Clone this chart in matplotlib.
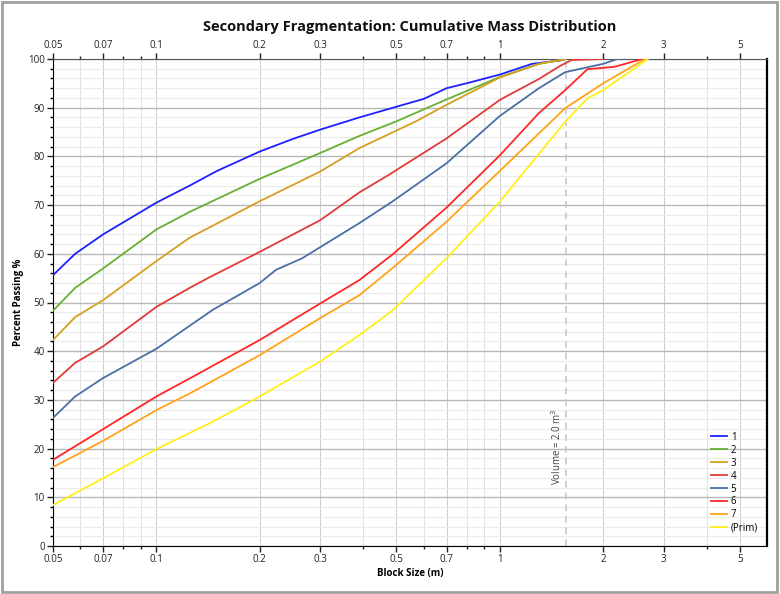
import numpy as np
import matplotlib
matplotlib.use("Agg")
import matplotlib.pyplot as plt
from matplotlib.patches import Rectangle
from matplotlib.ticker import FixedLocator, NullFormatter

plt.rcParams['font.family'] = ['Open Sans', 'DejaVu Sans']

# ---- data ----
labels = ["1", "2", "3", "4", "5", "6", "7", "(Prim)"]
colors = ["#1f1fff", "#66b032", "#d4a020", "#e23a36", "#4a6fa5", "#ff2626", "#ffa31a", "#ffef1a"]

x1 = [0.05, 0.058, 0.07, 0.1, 0.125, 0.15, 0.2, 0.25, 0.3, 0.39, 0.5, 0.6, 0.7, 0.82, 1.0, 1.24, 1.5, 1.56]
y1 = [55.6, 60.0, 64.0, 70.5, 74.0, 77.0, 81.0, 83.6, 85.5, 88.0, 90.2, 91.8, 94.0, 95.2, 96.8, 99.0, 99.7, 100.0]

x2 = [0.05, 0.058, 0.07, 0.1, 0.125, 0.2, 0.3, 0.39, 0.5, 0.7, 1.0, 1.3, 1.56]
y2 = [48.3, 53.0, 57.0, 65.0, 68.6, 75.4, 80.7, 84.2, 87.2, 91.7, 96.3, 99.0, 100.0]

x3 = [0.05, 0.058, 0.07, 0.1, 0.125, 0.2, 0.3, 0.39, 0.57, 0.7, 1.0, 1.3, 1.56]
y3 = [42.3, 47.0, 50.5, 58.5, 63.3, 70.8, 76.9, 81.7, 87.2, 90.6, 96.2, 99.0, 100.0]

x4 = [0.05, 0.058, 0.07, 0.1, 0.125, 0.143, 0.2, 0.3, 0.39, 0.48, 0.7, 1.0, 1.3, 1.5, 1.62, 2.0]
y4 = [33.5, 37.6, 41.0, 49.1, 53.0, 55.2, 60.4, 66.9, 72.6, 76.4, 83.7, 91.6, 95.9, 98.6, 99.8, 100.0]

x5 = [0.05, 0.058, 0.07, 0.1, 0.146, 0.2, 0.223, 0.266, 0.39, 0.486, 0.7, 1.0, 1.3, 1.55, 2.0, 2.2]
y5 = [26.3, 30.7, 34.5, 40.5, 48.5, 54.0, 56.7, 59.1, 66.3, 70.7, 78.6, 88.3, 94.0, 97.3, 99.0, 100.0]

x6 = [0.05, 0.07, 0.1, 0.125, 0.2, 0.3, 0.39, 0.486, 0.7, 1.0, 1.3, 1.55, 1.8, 2.16, 2.6]
y6 = [17.7, 24.0, 30.7, 34.4, 42.3, 49.8, 54.6, 59.8, 69.5, 80.2, 88.9, 93.6, 97.9, 98.4, 100.0]

x7 = [0.05, 0.07, 0.1, 0.125, 0.2, 0.3, 0.39, 0.486, 0.7, 1.0, 1.55, 2.0, 2.65]
y7 = [16.2, 21.6, 27.9, 31.3, 39.2, 46.8, 51.5, 57.0, 66.6, 77.0, 89.9, 95.0, 100.0]

x_prim = [0.05, 0.07, 0.1, 0.143, 0.2, 0.3, 0.39, 0.486, 0.7, 1.0, 1.55, 1.8, 2.0, 2.7]
y_prim = [8.4, 13.9, 19.9, 25.2, 30.7, 37.9, 43.3, 48.3, 59.1, 70.7, 87.1, 91.9, 93.6, 100.0]

xs = [x1, x2, x3, x4, x5, x6, x7, x_prim]
ys = [y1, y2, y3, y4, y5, y6, y7, y_prim]

volume = 2.0  # m^3
x_major = [0.05, 0.07, 0.1, 0.2, 0.3, 0.5, 0.7, 1, 2, 3, 5]
x_minor = [0.06, 0.08, 0.09, 0.4, 0.6, 0.8, 0.9, 4]
y_major = list(range(0, 101, 10))
y_minor = list(range(0, 101, 2))

# ---- figure ----
fig = plt.figure(figsize=(7.8, 5.94), dpi=100)
ax = fig.add_axes([53/780, 1-546/594, (767-53)/780, (546-59)/594])

for x, y, c, l in zip(xs, ys, colors, labels):
    ax.plot(x, y, color=c, lw=1.3, label=l, zorder=3)

ax.set_xscale('log')
ax.set_xlim(0.05, 6)
ax.set_ylim(0, 100)

ax.xaxis.set_major_locator(FixedLocator(x_major))
ax.xaxis.set_minor_locator(FixedLocator(x_minor))
ax.set_xticklabels([f"{v:g}" for v in x_major])
ax.xaxis.set_minor_formatter(NullFormatter())
ax.yaxis.set_major_locator(FixedLocator(y_major))
ax.yaxis.set_minor_locator(FixedLocator(y_minor))

ax.grid(True, which='major', axis='y', color='#b8b8b8', lw=1.0, zorder=0)
ax.grid(True, which='minor', axis='y', color='#ebebeb', lw=0.8, zorder=0)
ax.grid(True, which='major', axis='x', color='#d0d0d0', lw=0.8, zorder=0)
ax.grid(True, which='minor', axis='x', color='#e2e2e2', lw=0.8, zorder=0)
ax.set_axisbelow(True)

ax.tick_params(axis='x', which='both', top=True, labeltop=True, direction='out',
               labelsize=7, colors='#222222', pad=2)
ax.tick_params(axis='x', which='major', length=4, width=1)
ax.tick_params(axis='x', which='minor', length=2.5, width=1)
ax.tick_params(axis='y', which='major', length=4, width=1, labelsize=7, colors='#222222', pad=2)
ax.tick_params(axis='y', which='minor', length=2, width=1)

for s in ['left', 'bottom', 'right']:
    ax.spines[s].set_color('black')
ax.spines['top'].set_color('#555555')
ax.spines['right'].set_linewidth(1.6)

# volume line (equivalent sphere diameter)
d_vol = (6 * volume / np.pi) ** (1/3)
ax.axvline(d_vol, color='#c8c8c8', lw=1.2, ls=(0, (4, 3)), zorder=2)
ax.text(d_vol * 0.985, 20.3, f"Volume = {volume:.1f} m$^3$", rotation=90, ha='right', va='center',
        fontsize=7, color='#444444')

ax.set_title("Secondary Fragmentation: Cumulative Mass Distribution", fontsize=10.5,
             fontweight='bold', pad=20, color='#111111')
ax.set_xlabel("Block Size (m)", fontsize=7, fontweight='bold', labelpad=2)
ax.set_ylabel("Percent Passing %", fontsize=7, fontweight='bold', labelpad=3)

leg = ax.legend(loc='lower right', bbox_to_anchor=(0.997, 0.012), frameon=False, fontsize=7,
                handlelength=1.6, handletextpad=0.4, labelspacing=0.2, borderaxespad=0.3)

fig.patches.append(Rectangle((0.002, 0.004), 0.994, 0.992, transform=fig.transFigure,
                             fill=False, edgecolor='#a0a0a0', lw=2))

fig.savefig("out.png", dpi=100)
